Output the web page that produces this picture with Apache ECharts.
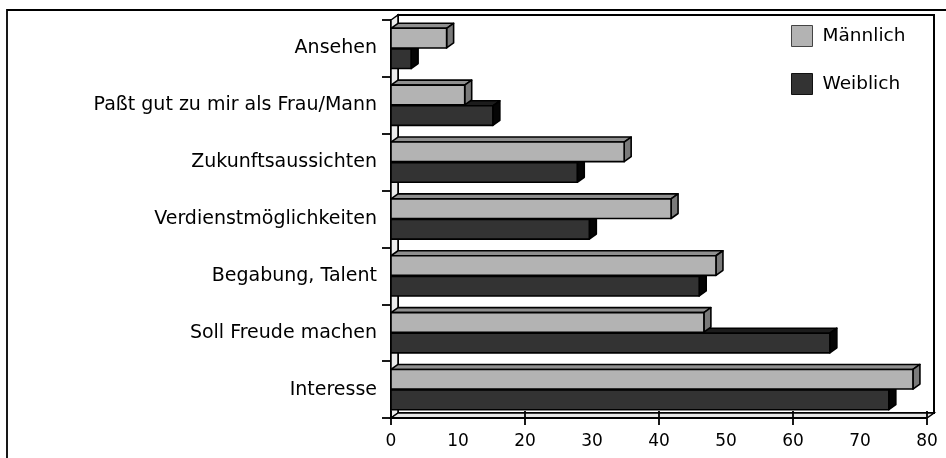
<!DOCTYPE html>
<html>
<head>
<meta charset="utf-8">
<script src="https://cdn.jsdelivr.net/npm/echarts@6/dist/echarts.min.js"></script>
<style>html,body{margin:0;padding:0;background:#fff;}#c{width:946px;height:458px;}</style>
</head>
<body>
<div id="c"></div>
<script>
const categories = ['Ansehen', 'Paßt gut zu mir als Frau/Mann', 'Zukunftsaussichten', 'Verdienstmöglichkeiten', 'Begabung, Talent', 'Soll Freude machen', 'Interesse'];
const maleValues = [8.3, 11.0, 34.8, 41.8, 48.5, 46.7, 77.9];
const femaleValues = [3.0, 15.2, 27.8, 29.6, 46.0, 65.5, 74.3];
const seriesNames = ['Männlich', 'Weiblich'];
const xMin = 0, xMax = 80, xLabelStep = 10, xTickStep = 20;

const DX = 7, DY = -5;
const FONT = 'DejaVu Sans';

function barRender(isMale, front, top, side) {
  return function (params, api) {
    const v = api.value(0), cat = api.value(1);
    const p0 = api.coord([0, cat]);
    const p1 = api.coord([v, cat]);
    const band = api.size([0, 1])[1];
    const h = band * 0.345;
    const c = p0[1];
    const y0 = isMale ? c - h - 0.5 : c + 0.5;
    const y1 = y0 + h;
    const x0 = p0[0], x1 = p1[0];
    const st = { stroke: '#000', lineWidth: 1.6, lineJoin: 'round' };
    return {
      type: 'group',
      children: [
        { type: 'polygon', shape: { points: [[x0, y0], [x0 + DX, y0 + DY], [x1 + DX, y0 + DY], [x1, y0]] }, style: Object.assign({ fill: top }, st) },
        { type: 'polygon', shape: { points: [[x1, y0], [x1 + DX, y0 + DY], [x1 + DX, y1 + DY], [x1, y1]] }, style: Object.assign({ fill: side }, st) },
        { type: 'rect', shape: { x: x0, y: y0, width: x1 - x0, height: y1 - y0 }, style: Object.assign({ fill: front }, st) }
      ]
    };
  };
}

function frameRender(params, api) {
  const cs = params.coordSys;
  const x = cs.x, y = cs.y, w = cs.width, h = cs.height;
  return {
    type: 'group',
    children: [
      { type: 'rect', shape: { x: x + DX, y: y + DY, width: w, height: h }, style: { fill: '#fff', stroke: '#000', lineWidth: 2 } },
      { type: 'polygon', shape: { points: [[x, y], [x + DX, y + DY], [x + DX, y + h + DY], [x, y + h]] }, style: { fill: '#ededed', stroke: '#000', lineWidth: 1.5 } },
      { type: 'polygon', shape: { points: [[x, y + h], [x + DX, y + h + DY], [x + w + DX, y + h + DY], [x + w, y + h]] }, style: { fill: '#e6e6e6', stroke: '#000', lineWidth: 1.5 } },
      { type: 'line', shape: { x1: x, y1: y + h, x2: x + w, y2: y + h }, style: { stroke: '#000', lineWidth: 2 } }
    ]
  };
}

const chart = echarts.init(document.getElementById('c'), null, { renderer: 'canvas' });
chart.setOption({
  animation: false,
  backgroundColor: '#fff',
  graphic: [
    { type: 'rect', shape: { x: 7, y: 10, width: 2000, height: 2000 }, style: { fill: 'none', stroke: '#000', lineWidth: 1.8 }, z: -10 }
  ],
  legend: {
    orient: 'vertical',
    left: 791,
    top: 25,
    padding: 0,
    itemWidth: 21,
    itemHeight: 21,
    itemGap: 26,
    icon: 'rect',
    selectedMode: false,
    textStyle: { fontFamily: FONT, fontSize: 18.5, color: '#000', padding: [0, 0, 0, 5] },
    data: [
      { name: seriesNames[0], itemStyle: { color: '#b3b3b3', borderColor: '#444', borderWidth: 1 } },
      { name: seriesNames[1], itemStyle: { color: '#333333', borderColor: '#111', borderWidth: 1 } }
    ]
  },
  grid: { left: 391, top: 20, width: 536, height: 398, containLabel: false },
  xAxis: [
    {
      type: 'value', min: xMin, max: xMax, interval: xLabelStep,
      splitLine: { show: false },
      axisTick: { show: false },
      axisLine: { show: false },
      axisLabel: { fontFamily: FONT, fontSize: 17, color: '#000', margin: 15 }
    },
    {
      type: 'value', min: xMin, max: xMax, interval: xTickStep,
      position: 'bottom', offset: -7, z: 10,
      splitLine: { show: false },
      axisLine: { show: false },
      axisLabel: { show: false },
      axisTick: { show: true, length: 14, lineStyle: { color: '#000', width: 1.8 } }
    }
  ],
  yAxis: {
    type: 'category', data: categories, inverse: true,
    axisLine: { show: true, lineStyle: { color: '#000', width: 2 } },
    axisTick: { show: true, length: 9, lineStyle: { color: '#000', width: 1.8 } },
    axisLabel: { fontFamily: FONT, fontSize: 19, color: '#000', margin: 14 },
    splitLine: { show: false }
  },
  series: [
    {
      type: 'custom', name: 'frame', z: 1, clip: false, silent: true,
      renderItem: frameRender,
      data: [[0, 0]],
      encode: { x: 0, y: 1 }
    },
    {
      type: 'custom', name: seriesNames[1], z: 2, clip: false,
      itemStyle: { color: '#333333' },
      renderItem: barRender(false, '#333333', '#1c1c1c', '#050505'),
      data: femaleValues.map((v, i) => [v, i]),
      encode: { x: 0, y: 1 }
    },
    {
      type: 'custom', name: seriesNames[0], z: 3, clip: false,
      itemStyle: { color: '#b3b3b3' },
      renderItem: barRender(true, '#b3b3b3', '#8f8f8f', '#7a7a7a'),
      data: maleValues.map((v, i) => [v, i]),
      encode: { x: 0, y: 1 }
    }
  ]
});
</script>
</body>
</html>
